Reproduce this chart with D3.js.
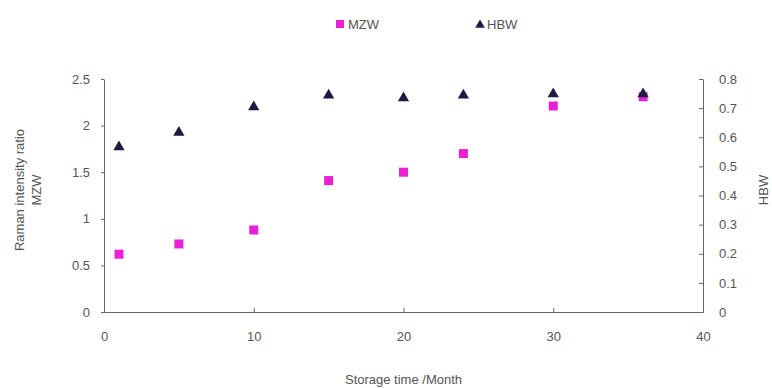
<!DOCTYPE html>
<html>
<head>
<meta charset="utf-8">
<script src="https://cdn.jsdelivr.net/npm/d3@7"></script>
<style>
  body { margin: 0; background: #fff; }
  svg { font-family: "Liberation Sans", Arial, sans-serif; }
  .tick text { fill: #555; font-size: 13px; }
  .axis path, .axis line { stroke: #666; }
</style>
</head>
<body>
<div id="chart"></div>
<script>
const months = [1, 5, 10, 15, 20, 24, 30, 36];
const mzw = [0.62, 0.73, 0.88, 1.41, 1.50, 1.70, 2.21, 2.31];
const hbw = [0.57, 0.62, 0.707, 0.748, 0.738, 0.748, 0.752, 0.752];
const xTicks = [0, 10, 20, 30, 40];
const leftTicks = [0, 0.5, 1, 1.5, 2, 2.5];
const rightTicks = [0, 0.1, 0.2, 0.3, 0.4, 0.5, 0.6, 0.7, 0.8];

const width = 772, height = 388;
const margin = { top: 79, right: 69, bottom: 76, left: 104 };

const svg = d3.select("#chart").append("svg")
  .attr("width", width)
  .attr("height", height);

const x = d3.scaleLinear().domain([0, 40]).range([margin.left, width - margin.right]);
const yL = d3.scaleLinear().domain([0, 2.5]).range([height - margin.bottom, margin.top]);
const yR = d3.scaleLinear().domain([0, 0.8]).range([height - margin.bottom, margin.top]);

// x axis, ticks pointing inward
svg.append("g")
  .attr("class", "axis")
  .attr("transform", `translate(0,${height - margin.bottom})`)
  .call(d3.axisBottom(x).tickValues(xTicks).tickSizeInner(-4).tickSizeOuter(0).tickPadding(20));

svg.append("g")
  .attr("class", "axis")
  .attr("transform", `translate(${margin.left},0)`)
  .call(d3.axisLeft(yL).tickValues(leftTicks).tickFormat(d3.format("")).tickSizeInner(3).tickSizeOuter(0).tickPadding(11));

svg.append("g")
  .attr("class", "axis")
  .attr("transform", `translate(${width - margin.right},0)`)
  .call(d3.axisRight(yR).tickValues(rightTicks).tickFormat(d3.format("")).tickSizeInner(-4).tickSizeOuter(0).tickPadding(16));

svg.selectAll(".axis .domain").attr("stroke", "#666");

// points
svg.selectAll(".sq")
  .data(months)
  .enter().append("rect")
  .attr("class", "sq")
  .attr("x", (d, i) => x(d) - 4.5)
  .attr("y", (d, i) => yL(mzw[i]) - 4.5)
  .attr("width", 9)
  .attr("height", 9)
  .attr("fill", "#ec1ed6");

const tri = d3.symbol().type(d3.symbolTriangle).size(55);
svg.selectAll(".tri")
  .data(months)
  .enter().append("path")
  .attr("class", "tri")
  .attr("d", tri)
  .attr("transform", (d, i) => `translate(${x(d)},${yR(hbw[i]) + 1})`)
  .attr("fill", "#1b1b45");

// axis titles
svg.append("text")
  .attr("x", x(20))
  .attr("y", 384)
  .attr("text-anchor", "middle")
  .attr("fill", "#555")
  .style("font-size", "13px")
  .text("Storage time /Month");

const lt = svg.append("text")
  .attr("transform", "translate(24,190) rotate(-90)")
  .attr("text-anchor", "middle")
  .attr("fill", "#555")
  .style("font-size", "13px");
lt.append("tspan").attr("x", 0).attr("dy", 0).text("Raman intensity ratio");
lt.append("tspan").attr("x", 0).attr("dy", 17).text("MZW");

svg.append("text")
  .attr("transform", "translate(768,190) rotate(-90)")
  .attr("text-anchor", "middle")
  .attr("fill", "#555")
  .style("font-size", "13px")
  .text("HBW");

// legend
const legend = svg.append("g").attr("transform", "translate(0,24)");
legend.append("rect")
  .attr("x", 336).attr("y", -4).attr("width", 8).attr("height", 8)
  .attr("fill", "#ec1ed6");
legend.append("text")
  .attr("x", 348).attr("y", 5)
  .attr("fill", "#555").style("font-size", "13px")
  .text("MZW");
legend.append("path")
  .attr("d", d3.symbol().type(d3.symbolTriangle).size(40))
  .attr("transform", "translate(480,1)")
  .attr("fill", "#1b1b45");
legend.append("text")
  .attr("x", 487).attr("y", 5)
  .attr("fill", "#555").style("font-size", "13px")
  .text("HBW");
</script>
</body>
</html>
